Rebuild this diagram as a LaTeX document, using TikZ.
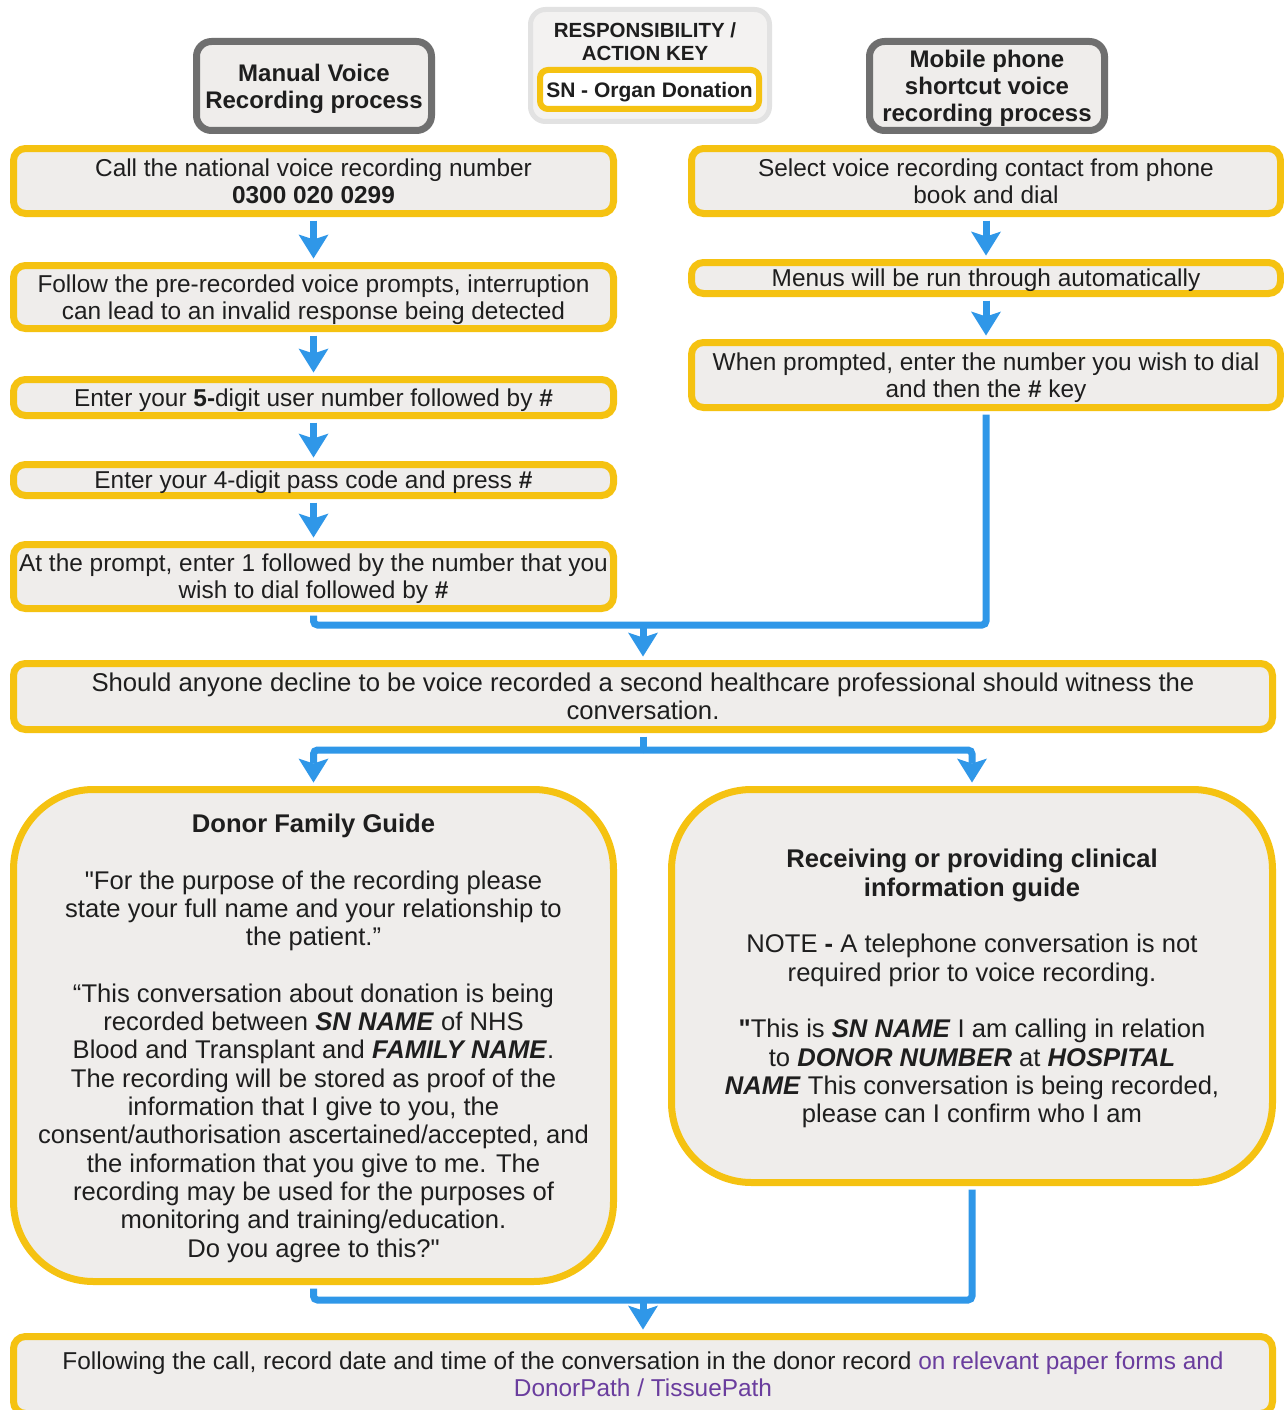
\documentclass[tikz,border=0pt]{standalone}
\usepackage{fontspec}
\setmainfont{Liberation Sans}
\usetikzlibrary{arrows.meta}
\definecolor{ylw}{HTML}{F5C211}
\definecolor{boxfill}{HTML}{EFEDEB}
\definecolor{keyfill}{HTML}{F3F2F1}
\definecolor{flowblue}{HTML}{2F97E8}
\definecolor{hdrgray}{HTML}{6F6F6F}
\definecolor{keygray}{HTML}{E2E2E2}
\definecolor{txt}{HTML}{1E1E1E}
\definecolor{purp}{HTML}{6A3D9E}
\newcommand{\sq}{\XeTeXglyph\XeTeXcharglyph"22\relax}
\begin{document}
\begin{tikzpicture}[x=1pt,y=-1pt,
  ybox/.style={draw=ylw, line width=7pt, fill=boxfill, rounded corners=12pt, inner sep=0pt,
    text=txt, align=center, font=\fontsize{24.4}{27}\selectfont, text depth=-0.5pt},
  decbox/.style={ybox, font=\fontsize{25.7}{28}\selectfont, text depth=0pt},
  guide/.style={ybox, rounded corners=80pt, font=\fontsize{25.6}{28.3}\selectfont, text depth=-1pt},
  hdr/.style={draw=hdrgray, line width=7pt, fill=boxfill, rounded corners=15pt, inner sep=0pt,
    align=center, text=txt, font=\bfseries\fontsize{24}{27}\selectfont, text depth=-1.5pt},
  flow/.style={draw=flowblue, line width=7pt},
  arr/.style={flow, -{Stealth[length=24pt,width=30pt,inset=5pt,line width=0pt]}},
]
\useasboundingbox (0,0) rectangle (1284,1410);
\fill[white] (0,0) rectangle (1284,1410);

% headers
\node[hdr, minimum width=235pt, minimum height=89pt] (manual) at (314,86) {Manual Voice\\Recording process};
\node[hdr, minimum width=235pt, minimum height=89pt] (mobile) at (987,86) {Mobile phone\\shortcut voice\\recording process};

% key
\node[draw=keygray, line width=5pt, fill=keyfill, rounded corners=15pt, minimum width=239pt, minimum height=112pt] (key) at (650,65.5) {};
\node[align=center, text=txt, font=\bfseries\fontsize{20.5}{23}\selectfont, inner sep=0pt] (keytitle) at (645,42) {RESPONSIBILITY /\\ACTION KEY};
\node[draw=ylw, line width=6pt, fill=white, rounded corners=8pt, minimum width=219pt, minimum height=39pt, inner sep=0pt,
  text=txt, font=\bfseries\fontsize{21}{24}\selectfont, text depth=-1.6pt] (keysn) at (649.5,89.5) {SN - Organ Donation};

% left column
\node[ybox, minimum width=600pt, minimum height=65pt] (m1) at (313.5,181) {Call the national voice recording number\\\textbf{0300 020 0299}};
\node[ybox, minimum width=600pt, minimum height=63pt] (m2) at (313.5,297) {Follow the pre-recorded voice prompts, interruption\\can lead to an invalid response being detected};
\node[ybox, minimum width=600pt, minimum height=36pt] (m3) at (313.5,397.5) {Enter your \textbf{5-}digit user number followed by \textbf{\#}};
\node[ybox, minimum width=600pt, minimum height=31pt] (m4) at (313.5,480) {Enter your 4-digit pass code and press \textbf{\#}};
\node[ybox, minimum width=600pt, minimum height=64pt, text depth=-2.5pt] (m5) at (313.5,576.5) {At the prompt, enter 1 followed by the number that you\\wish to dial followed by \textbf{\#}};

% right column
\node[ybox, minimum width=589pt, minimum height=65pt] (r1) at (986,181) {Select voice recording contact from phone\\book and dial};
\node[ybox, minimum width=589pt, minimum height=31pt] (r2) at (986,278) {Menus will be run through automatically};
\node[ybox, minimum width=589pt, minimum height=65pt] (r3) at (986,375) {When prompted, enter the number you wish to dial\\and then the \textbf{\#} key};

% decline
\node[decbox, minimum width=1259pt, minimum height=66pt] (dec) at (643,696.5) {Should anyone decline to be voice recorded a second healthcare professional should witness the\\conversation.};

% guides
\node[guide, minimum width=600pt, minimum height=492pt] (donor) at (313.5,1035.5) {\textbf{Donor Family Guide}\\[28.3pt]
\sq For the purpose of the recording please\\
state your full name and your relationship to\\
the patient.”\\[28.3pt]
“This conversation about donation is being\\
recorded between \textbf{\textit{SN NAME}} of NHS\\
Blood and Transplant and \textbf{\textit{FAMILY NAME}}.\\
The recording will be stored as proof of the\\
information that I give to you, the\\
consent/authorisation ascertained/accepted, and\\
the information that you give to me. The\\
recording may be used for the purposes of\\
monitoring and training/education.\\
Do you agree to this?\sq};
\node[guide, minimum width=601pt, minimum height=393pt] (recv) at (972,986) {\textbf{Receiving or providing clinical}\\
\textbf{information guide}\\[28.3pt]
NOTE \textbf{-} A telephone conversation is not\\
required prior to voice recording.\\[28.3pt]
\textbf{\sq}This is \textbf{\textit{SN NAME}} I am calling in relation\\
to \textbf{\textit{DONOR NUMBER}} at \textbf{\textit{HOSPITAL}}\\
\textbf{\textit{NAME}} This conversation is being recorded,\\
please can I confirm who I am};

% final
\node[ybox, minimum width=1259pt, minimum height=77pt, text depth=1pt] (final) at (643,1375) {Following the call, record date and time of the conversation in the donor record \textcolor{purp}{on relevant paper forms and}\\\textcolor{purp}{DonorPath / TissuePath}};

% junctions
\coordinate (j1) at (643,625);
\coordinate (j2) at (643,750);
\coordinate (j3) at (643,1300);

% connectors
\draw[arr, shorten <=3.5pt, shorten >=3.5pt] (m1.south) -- (m2.north);
\draw[arr, shorten <=3.5pt, shorten >=3.5pt] (m2.south) -- (m3.north);
\draw[arr, shorten <=3.5pt, shorten >=3.5pt] (m3.south) -- (m4.north);
\draw[arr, shorten <=3.5pt, shorten >=3.5pt] (m4.south) -- (m5.north);
\draw[arr, shorten <=3.5pt, shorten >=3.5pt] (r1.south) -- (r2.north);
\draw[arr, shorten <=3.5pt, shorten >=3.5pt] (r2.south) -- (r3.north);
\draw[flow, rounded corners=4pt, shorten <=3.5pt] (m5.south) |- (j1) -| ([yshift=-3.5pt]r3.south);
\draw[arr, shorten >=3.5pt] (j1) -- (dec.north);
\draw[flow, shorten <=3.5pt] (dec.south) -- (j2);
\draw[arr, rounded corners=4pt, shorten >=3.5pt] (j2) -| (donor.north);
\draw[arr, rounded corners=4pt, shorten >=3.5pt] (j2) -| (recv.north);
\draw[flow, rounded corners=4pt, shorten <=3.5pt] (donor.south) |- (j3) -| ([yshift=-3.5pt]recv.south);
\draw[arr, shorten >=3.5pt] (j3) -- (final.north);
\end{tikzpicture}
\end{document}
